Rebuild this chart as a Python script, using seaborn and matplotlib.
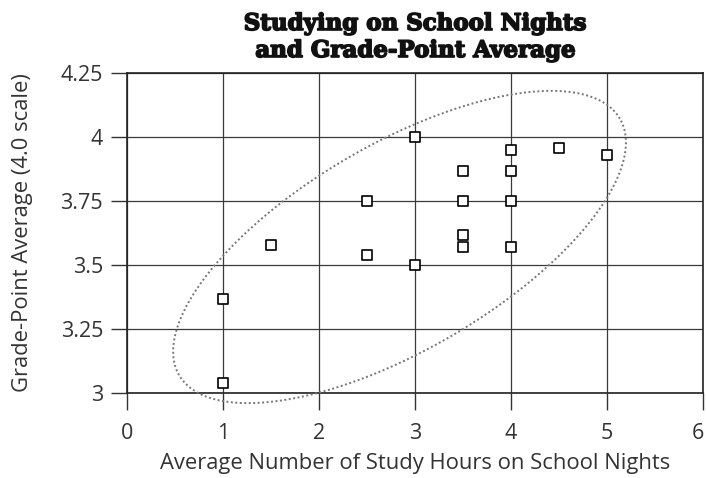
import numpy as np
import pandas as pd
import matplotlib
matplotlib.use("Agg")
import matplotlib.pyplot as plt
import matplotlib.patheffects as pe
import matplotlib.transforms as mtransforms
import seaborn as sns

# Study hours vs. GPA for each student
study_hours = [3, 4, 4.5, 5, 3.5, 4, 2.5, 3.5, 4, 3.5, 3.5, 1.5, 2.5, 3, 4, 1, 1]
gpa = [4.0, 3.95, 3.96, 3.93, 3.87, 3.87, 3.75, 3.75, 3.75, 3.62, 3.57, 3.58, 3.54, 3.5, 3.57, 3.37, 3.04]

x_ticks = [0, 1, 2, 3, 4, 5, 6]
y_ticks = [3.0, 3.25, 3.5, 3.75, 4.0, 4.25]
y_tick_labels = ["3", "3.25", "3.5", "3.75", "4", "4.25"]

df = pd.DataFrame({"hours": study_hours, "gpa": gpa})

sns.set_theme(style="white")
plt.rcParams["font.family"] = ["Open Sans", "DejaVu Sans"]

W, H = 706, 478
fig = plt.figure(figsize=(W / 100, H / 100), dpi=100)
ax = fig.add_axes([126.7 / W, 1 - 393.3 / H, 576 / W, 320 / H])

sns.scatterplot(data=df, x="hours", y="gpa", marker="s", s=58,
                facecolor="white", edgecolor="black", linewidth=1.2,
                zorder=4, ax=ax)

ax.set_xlim(0, 6)
ax.set_ylim(3.0, 4.25)
ax.set_xticks(x_ticks)
ax.set_yticks(y_ticks)
ax.set_yticklabels(y_tick_labels)

ax.grid(True, color="#3a3a3a", linewidth=0.9)
ax.set_axisbelow(True)
for sp in ax.spines.values():
    sp.set_color("#222222")
    sp.set_linewidth(1.2)

text_color = "#333333"
ax.tick_params(axis="x", direction="out", length=12, width=1.0, color="#333333",
               pad=9.5, labelsize=15.5, labelcolor=text_color, bottom=True)
ax.tick_params(axis="y", direction="out", length=11.5, width=1.0, color="#333333",
               pad=5.5, labelsize=15.5, labelcolor=text_color, left=True)
ax.set_xlabel("")
ax.set_ylabel("")

# keep the last x tick label inside the canvas
last = ax.get_xticklabels()[-1]
last.set_transform(last.get_transform() +
                   mtransforms.ScaledTranslation(-5 / 100, 0, fig.dpi_scale_trans))

fig.text(414.7 / W, 1 - 464 / H, "Average Number of Study Hours on School Nights",
         fontsize=15.8, color=text_color, ha="center", va="center")
fig.text(23 / W, 1 - 233 / H, "Grade-Point Average (4.0 scale)",
         fontsize=15.8, color=text_color, ha="center", va="center", rotation=90)

# Heavy two-line title
heavy = [pe.withStroke(linewidth=1.2, foreground="#111111")]
for line, base in [("Studying on School Nights", 30), ("and Grade-Point Average", 57)]:
    fig.text(414.7 / W, 1 - base / H, line, fontsize=16.5, fontweight="bold",
             family="DejaVu Serif", color="#111111", ha="center", va="baseline",
             path_effects=heavy)

# Dotted ellipse enclosing the cluster (size given in screen pixels)
fig.canvas.draw()
center = (2.842, 3.5715)
semi_major, semi_minor, tilt = 255.0, 103.0, np.deg2rad(30.2)
t = np.linspace(0, 2 * np.pi, 400)
dx = semi_major * np.cos(t) * np.cos(tilt) - semi_minor * np.sin(t) * np.sin(tilt)
dy = semi_major * np.cos(t) * np.sin(tilt) + semi_minor * np.sin(t) * np.cos(tilt)
cx_px, cy_px = ax.transData.transform(center)
pts = ax.transData.inverted().transform(np.column_stack([cx_px + dx, cy_px + dy]))
ax.plot(pts[:, 0], pts[:, 1], linestyle=(0, (1, 1.3)), color="#777777",
        linewidth=1.4, clip_on=False, zorder=3)

fig.savefig("out.png", dpi=100)
